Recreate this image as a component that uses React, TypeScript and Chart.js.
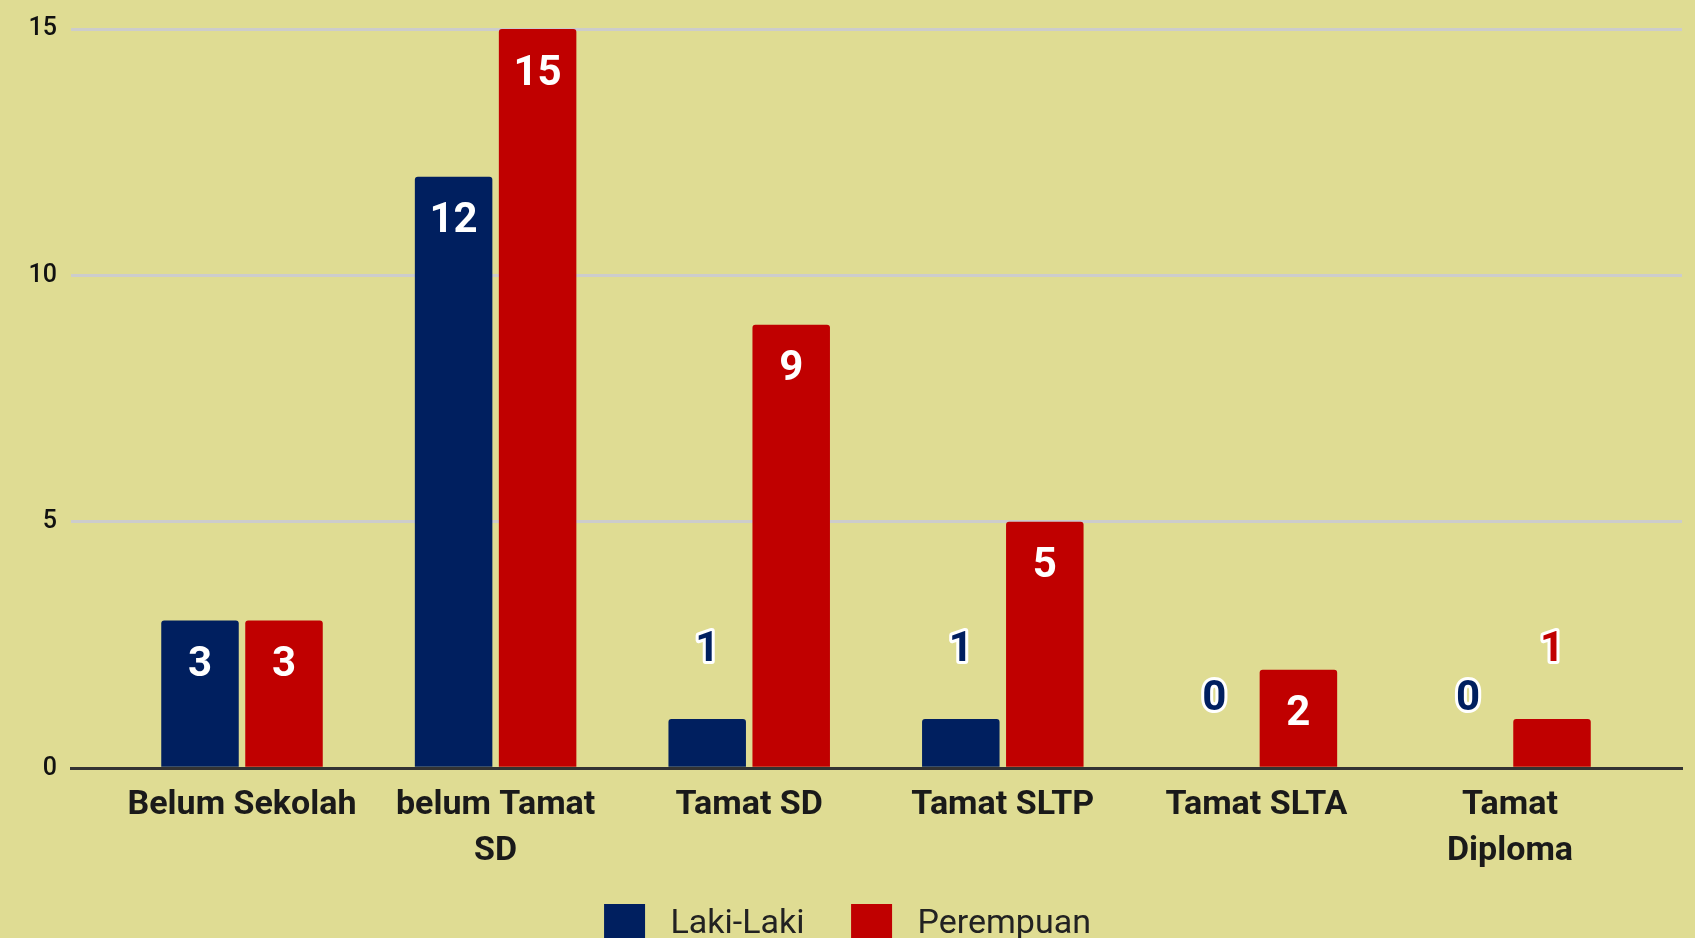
import React, { useEffect, useRef } from 'react';
import { Chart, registerables } from 'chart.js';

Chart.register(...registerables);

// ---- data ----
const categories: (string | string[])[] = [
  'Belum Sekolah',
  ['belum Tamat', 'SD'],
  'Tamat SD',
  'Tamat SLTP',
  'Tamat SLTA',
  ['Tamat', 'Diploma'],
];
const seriesNames = ['Laki-Laki', 'Perempuan'];
const lakiLaki = [3, 12, 1, 1, 0, 0];
const perempuan = [3, 15, 9, 5, 2, 1];
const yTickValues = [0, 5, 10, 15];

// ---- style ----
const BLUE = '#001F5F';
const RED = '#C00000';
const BG = '#DFDC93';
const FONT = 'Roboto';

const valueLabels = {
  id: 'valueLabels',
  afterDatasetsDraw(chart: any) {
    const ctx = chart.ctx as CanvasRenderingContext2D;
    ctx.save();
    ctx.font = `bold 42px ${FONT}`;
    ctx.textAlign = 'center';
    ctx.textBaseline = 'middle';
    ctx.lineJoin = 'round';
    chart.data.datasets.forEach((ds: any, di: number) => {
      const meta = chart.getDatasetMeta(di);
      meta.data.forEach((el: any, i: number) => {
        const v = ds.data[i];
        const txt = String(v);
        const h = el.base - el.y;
        if (h > 60) {
          ctx.fillStyle = '#FFFFFF';
          ctx.fillText(txt, el.x, el.y + 45);
        } else {
          const y = el.y - 69;
          ctx.strokeStyle = '#FFFFFF';
          ctx.lineWidth = 6;
          ctx.strokeText(txt, el.x, y);
          ctx.fillStyle = ds.backgroundColor;
          ctx.fillText(txt, el.x, y);
        }
      });
    });
    ctx.restore();
  },
};

export default function App() {
  const ref = useRef<HTMLCanvasElement | null>(null);

  useEffect(() => {
    document.body.style.margin = '0';
    document.body.style.overflow = 'hidden';
    const canvas = ref.current;
    if (!canvas) return;
    const chart = new Chart(canvas, {
      type: 'bar',
      data: {
        labels: categories.map((_, i) => i),
        datasets: [
          {
            label: seriesNames[0],
            data: lakiLaki,
            backgroundColor: BLUE,
            borderWidth: 0,
            borderRadius: { topLeft: 3, topRight: 3, bottomLeft: 0, bottomRight: 0 },
            borderSkipped: false,
          },
          {
            label: seriesNames[1],
            data: perempuan,
            backgroundColor: RED,
            borderWidth: 0,
            borderRadius: { topLeft: 3, topRight: 3, bottomLeft: 0, bottomRight: 0 },
            borderSkipped: false,
          },
        ],
      },
      options: {
        responsive: false,
        animation: false,
        devicePixelRatio: 1,
        categoryPercentage: 0.6625,
        barPercentage: 0.9226,
        layout: { padding: { left: 13, right: 13, top: 27, bottom: 0 } },
        plugins: {
          tooltip: { enabled: false },
          legend: {
            display: true,
            position: 'bottom',
            labels: {
              boxWidth: 41,
              boxHeight: 41,
              padding: 29.7,
              color: '#222222',
              font: { family: FONT, size: 34 },
              generateLabels: (chart: any) => {
                const items = Chart.defaults.plugins.legend.labels.generateLabels(chart);
                return items.map((it: any, i: number) => ({
                  ...it,
                  text: ' ' + it.text + (i < items.length - 1 ? '  ' : ''),
                  lineWidth: 0,
                }));
              },
            },
          },
        },
        scales: {
          x: {
            type: 'linear',
            offset: false,
            bounds: 'data',
            min: -0.6743,
            max: 5.6782,
            z: 1,
            grid: { display: false, drawTicks: false, offset: false },
            border: { display: true, color: '#333333', width: 3 },
            afterBuildTicks: (axis: any) => {
              axis.ticks = categories.map((_, i) => ({ value: i }));
            },
            afterFit: (axis: any) => {
              axis.height = 106;
            },
            ticks: {
              autoSkip: false,
              maxRotation: 0,
              minRotation: 0,
              padding: 14,
              color: '#1A1A1A',
              font: { family: FONT, size: 34, weight: 'bold', lineHeight: 1.353 },
              callback: (value: any) => {
                const c = categories[Math.round(Number(value))];
                return c === undefined ? '' : c;
              },
            },
          },
          y: {
            min: 0,
            max: 15,
            afterBuildTicks: (axis: any) => {
              axis.ticks = yTickValues.map((v) => ({ value: v }));
            },
            afterFit: (axis: any) => {
              axis.width = 58;
            },
            grid: {
              drawTicks: false,
              lineWidth: 3,
              color: (c: any) => (c.tick && c.tick.value === 0 ? 'rgba(0,0,0,0)' : '#CCCCCC'),
            },
            border: { display: false },
            ticks: {
              padding: 14,
              color: '#111111',
              font: { family: FONT, size: 25, weight: '500' },
            },
          },
        },
      },
      plugins: [valueLabels],
    } as any);
    return () => chart.destroy();
  }, []);

  return (
    <div
      style={{
        position: 'fixed',
        left: 0,
        top: 0,
        width: 1695,
        height: 938,
        overflow: 'hidden',
        background: BG,
      }}
    >
      <canvas ref={ref} width={1695} height={955} style={{ display: 'block', width: 1695, height: 955 }} />
    </div>
  );
}
